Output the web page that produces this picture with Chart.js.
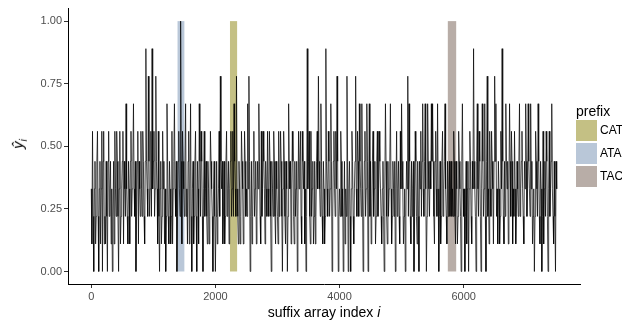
<!DOCTYPE html>
<html>
<head>
<meta charset="utf-8">
<script src="https://cdn.jsdelivr.net/npm/chart.js@4"></script>
<style>
  html, body { margin: 0; padding: 0; background: #fff; overflow: hidden; }
  #wrap { position: relative; width: 622px; height: 324px; font-family: "Liberation Sans", Arial, sans-serif; }
  .lab { position: absolute; color: #000; white-space: nowrap; }
  .key { position: absolute; width: 21px; height: 21px; }
</style>
</head>
<body>
<div id="wrap">
  <canvas id="chart" width="622" height="324"></canvas>
  <div class="lab" style="left:0; top:304px; width:648px; text-align:center; font-size:14px;">suffix array index <i>i</i></div>
  <div class="lab" style="left:14px; top:134px; font-size:15px; transform: rotate(-90deg); transform-origin: center;"><i>ŷ<sub style="font-size:10px">i</sub></i></div>
  <div class="lab" style="left:576px; top:103px; font-size:14px;">prefix</div>
  <div id="legend"></div>
</div>
<script>
// suffix array index step between samples
const step = 10;

// y-hat values, one every 10 indices (rows of 50 = 500 indices)
const yhat = [
  .33,.11,.56,.22,0,.33,.44,.11,.22,.44,.56,.22,0,.33,.44,.11,.33,.56,0,.44,.56,.11,.22,.11,.44,.22,0,.44,.56,.22,.33,.44,.11,.33,0,.22,.44,.11,.56,.33,.22,.56,.44,.22,0,.33,.56,.11,.22,.33,
  .44,.56,.11,.44,.33,.22,.67,.33,.22,.11,.44,.33,.11,.44,.56,.22,.33,.44,.67,.33,.22,.44,0,.22,.44,.56,.11,.44,.33,.22,.56,.33,.22,.56,.44,.22,.11,.44,.89,.44,.33,.22,.78,.44,.22,.33,.56,.22,.89,.33,
  .44,.56,.22,.33,.78,.44,.33,.11,.56,.22,0,.33,.44,.11,.22,.56,.33,.44,.11,.33,0,.22,.67,.44,.22,.11,.44,.33,.11,.22,.56,.11,.33,.44,.67,.33,.22,.44,0,.22,.44,.56,.33,.22,1,.44,.11,.56,.44,.33,
  .22,.44,.67,.22,.33,.11,.44,.56,.11,.33,.67,.22,0,.33,.44,.11,.22,.44,.56,.22,0,.44,.33,.11,.67,.44,.22,.56,.44,.22,0,.33,.56,.22,.33,.44,.22,.11,.44,.33,.11,.22,.56,.44,.33,.22,0,.33,.44,.22,
  0,.22,.44,.11,.22,.33,.56,.22,.78,.44,.33,.44,.11,.22,.44,.11,.22,.44,.56,.22,.33,.44,.11,.33,.44,.56,.22,.33,.56,.22,.67,.44,.33,.22,.78,.33,.22,.11,.44,.33,.11,.22,.56,.44,.33,.11,.22,.56,.44,.22,
  .33,.22,.67,.33,.78,.44,0,.22,.44,.11,.22,.44,.56,.22,.33,.44,.11,.22,.44,.33,.67,.44,.22,.11,.56,.22,.33,.56,.44,.33,.11,.44,.33,.22,.56,.33,.22,.56,.44,.22,0,.44,.33,.22,.56,.44,.22,.11,.44,.33,
  .22,.11,.56,.22,.33,.56,.44,.22,0,.33,.56,.44,.22,.11,.44,.33,0,.22,.67,.44,.33,.44,.11,.33,.56,.44,.22,.11,.44,.22,.33,.44,0,.22,.56,.33,.44,.56,.22,.11,.56,.44,.33,.44,.11,.33,0,.22,.89,.33,
  .44,.56,.22,.11,.56,.22,.33,.44,.11,.22,.44,.11,.22,.44,.56,.33,.78,.44,.33,.22,.67,.44,.22,.11,.44,.33,.11,.22,.89,.44,.33,.22,.56,.44,.22,.33,.67,.44,0,.22,.44,.56,.33,.22,.56,.33,.78,.44,0,.22,
  .33,.22,.56,.44,.22,.33,0,.22,.44,.11,.33,.22,.78,.44,0,.33,.44,.22,0,.33,.56,.44,.22,.11,.33,.44,.78,.33,.22,.56,.44,.22,.67,.44,.33,.22,.67,.33,0,.22,.44,.56,.22,.33,.67,.44,0,.33,.67,.22,
  .44,.11,.22,.44,.56,.22,.33,.44,.11,.22,.44,.56,.22,.33,.56,.44,.33,.22,.11,.33,.44,.22,0,.33,.67,.44,.22,.11,.44,.22,.33,.44,.67,.33,.11,.22,.44,.33,.22,.44,0,.33,.56,.22,.33,.44,.22,.11,.56,.33,
  .67,.44,.33,.11,.22,.33,0,.22,.44,.33,.78,.22,.67,.44,.22,.11,.44,.22,.33,.44,0,.22,.56,.44,.22,.11,.44,.22,0,.44,.33,.56,.22,.44,.67,.33,.22,.44,.67,.33,0,.22,.67,.44,.33,.22,.44,.33,.67,.44,
  .67,.44,.22,.11,.44,.56,.33,.22,.67,.33,0,.22,.44,.11,.22,.44,.56,.22,.33,.44,.67,.33,.22,.11,.44,.22,.33,.44,.22,.33,.44,.22,.33,.22,.56,.44,.22,.11,.44,.33,.11,.22,.56,.44,.33,.22,0,.44,.67,.33,
  .22,.33,0,.22,.44,.11,.33,.44,0,.33,.56,.44,.22,.11,.44,.33,.89,.44,.33,.22,0,.44,.67,.33,.22,.56,.44,.22,0,.33,.67,.44,.22,.33,.67,.22,0,.44,.78,.22,.33,.11,.56,.33,.22,.56,.44,.33,.11,.44,
  .78,.44,.67,.22,.33,.11,.44,.33,.11,.22,.56,.33,.89,.44,.22,.11,.44,.22,.67,.44,.33,.44,.11,.33,.67,.44,.22,.56,.44,.11,.33,.22,.56,.33,.11,.22,.44,.33,.22,.44,.67,.22,.33,.44,.56,.33,.22,.11,.44,.33,
  .67,.44,.22,.33,.67,.44,.33,.22,.67,.33,.44,.11,.22,.33,0,.22,.56,.44,.33,.22,.67,.44,.22,.11,.44,.33,0,.22,.56,.11,.33,.44,.22,.56,.44,.22,0,.33,.56,.22,.33,.44,.67,.33,.22,.11,.44,.22,0,.44,
  .33
];

// highlighted prefixes
const prefixes = ["CAT", "ATA", "TAC"];
const bandStart = [2235, 1390, 5745];
const bandEnd = [2350, 1500, 5880];
const bandColors = ["#c4c084", "#b9c7d8", "#b8ada7"];

const xTicks = [0, 2000, 4000, 6000];
const yTicks = [0, 0.25, 0.5, 0.75, 1];

const points = yhat.map((v, i) => ({ x: i * step, y: v }));

const bandPlugin = {
  id: "bands",
  beforeDatasetsDraw(chart) {
    const { ctx, scales: { x, y } } = chart;
    ctx.save();
    prefixes.forEach((p, i) => {
      const x0 = x.getPixelForValue(bandStart[i]);
      const x1 = x.getPixelForValue(bandEnd[i]);
      const y0 = y.getPixelForValue(0);
      const y1 = y.getPixelForValue(1);
      ctx.fillStyle = bandColors[i];
      ctx.fillRect(x0, y1, x1 - x0, y0 - y1);
    });
    ctx.restore();
  }
};

// legend keys
const legend = document.getElementById("legend");
prefixes.forEach((p, i) => {
  const k = document.createElement("div");
  k.className = "key";
  k.style.left = "576px";
  k.style.top = (120 + i * 23) + "px";
  k.style.background = bandColors[i];
  legend.appendChild(k);
  const t = document.createElement("div");
  t.className = "lab";
  t.style.left = "600px";
  t.style.top = (123 + i * 23) + "px";
  t.style.fontSize = "12px";
  t.textContent = p;
  legend.appendChild(t);
});

const tickFont = { family: "'Liberation Sans', Arial, sans-serif", size: 11 };

new Chart(document.getElementById("chart"), {
  type: "line",
  data: {
    datasets: [
      {
        data: points,
        borderColor: "rgba(0,0,0,0.8)",
        borderWidth: 0.9,
        pointRadius: 0,
        tension: 0,
      },
    ],
  },
  options: {
    responsive: false,
    animation: false,
    events: [],
    layout: { padding: { top: 6, right: 42, left: 0, bottom: 0 } },
    plugins: { legend: { display: false }, tooltip: { enabled: false } },
    scales: {
      x: {
        type: "linear",
        min: -375,
        max: 7875,
        afterBuildTicks(s) { s.ticks = xTicks.map(v => ({ value: v })); },
        afterFit(s) { s.height = 40; },
        ticks: { font: tickFont, color: "#4d4d4d", padding: 2, maxRotation: 0, callback: v => String(v) },
        grid: { drawOnChartArea: false, tickLength: 4, color: "#333" },
        border: { color: "#000", width: 1 },
      },
      y: {
        min: -0.05,
        max: 1.05,
        afterBuildTicks(s) { s.ticks = yTicks.map(v => ({ value: v })); },
        afterFit(s) { s.width = 68; },
        ticks: { font: tickFont, color: "#4d4d4d", padding: 2, callback: v => v.toFixed(2) },
        grid: { drawOnChartArea: false, tickLength: 4, color: "#333" },
        border: { color: "#000", width: 1 },
      },
    },
  },
  plugins: [bandPlugin],
});
</script>
</body>
</html>
